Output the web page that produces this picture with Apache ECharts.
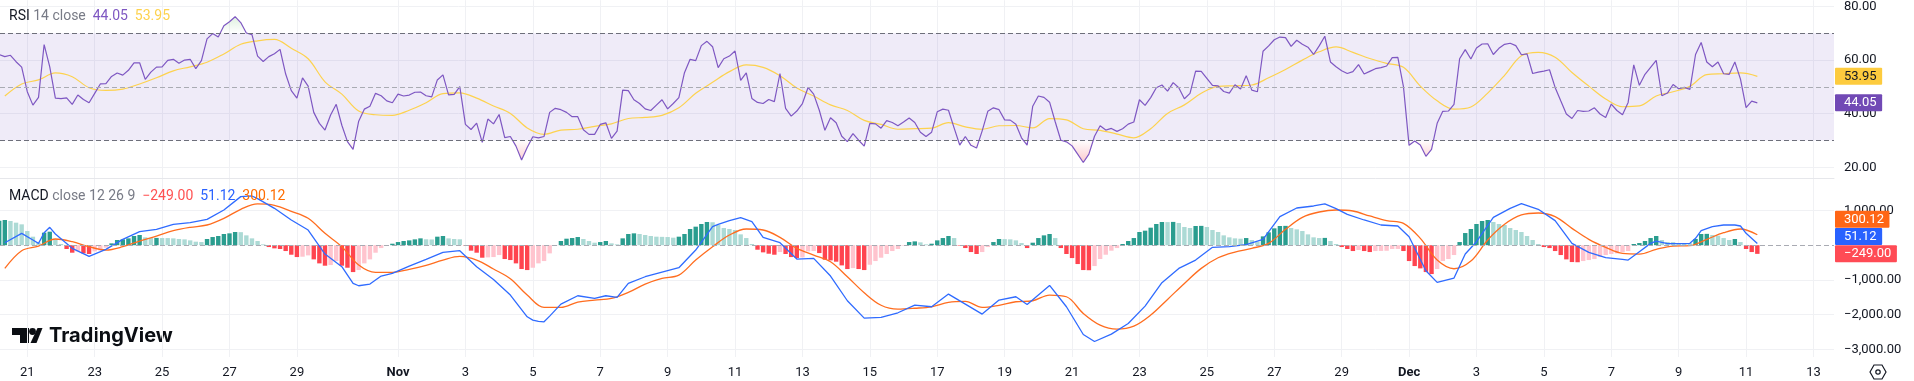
<!DOCTYPE html>
<html>
<head>
<meta charset="utf-8">
<style>html,body{margin:0;padding:0;background:#fff}#c{width:1914px;height:381px}</style>
<script src="https://cdn.jsdelivr.net/npm/echarts@6/dist/echarts.min.js"></script>
</head>
<body>
<div id="c"></div>
<script>
// One value per 4-hour candle (candle 0 .. 313).
const rsi = [62.1,61.3,61.8,59.4,57.4,48.2,43.2,46.1,65.8,57.5,45.8,45.6,45.9,43.5,47,45.3,44.1,47.6,51.1,51.2,53.9,55.2,54.4,56.2,59,59,52.8,55.5,57.4,57.5,59.9,60.3,58.8,60,60.3,56.8,59.8,67.9,69.9,68.6,72.8,74.3,76.2,74,70.1,69.5,61.5,59.5,61.3,62.4,64,54.8,48.6,45.8,
53.4,50.3,40.5,36.4,33.9,39.5,43.5,35.7,29.6,26.7,37.2,41.7,42.8,47.6,46.7,44.8,44.1,47.3,46.6,46.95,48,48.1,46.7,46.3,52.6,54.5,47,47.2,50.1,36,34.1,36.5,29.3,38,36.2,39.7,31.1,31.5,27.9,22.7,27.4,31.4,31,31.5,40.5,42,41.5,40.5,38.9,38.9,34,32.3,32.3,
36,36.6,30.8,33.5,48.8,48.6,45.2,43.8,41.8,41.2,43.2,45.2,41.8,43.8,46,55.3,60.3,59.8,65.4,67,65,57.2,60.5,61.5,63.4,52.4,55.2,45.7,44.2,43.8,45.3,44.5,55,42,39.1,41,43.8,49.8,47.3,41.3,33.8,38.5,36.6,31.6,29.6,32.6,30.1,27.9,36.4,36.2,34.6,37.4,
36.7,35.5,36.9,38.4,36.7,33.1,31.5,33.1,40.7,41.7,41.3,34.7,28.3,31.5,28.2,27.2,33.6,40.9,42.2,41.5,37.7,37.6,36.1,31,28.3,42.8,46.6,46.1,44.3,37,30.1,29.5,28,24.9,21.8,24.9,31.6,35.5,33.9,34.5,33.4,34.4,36.1,36.9,45.2,43.1,46,49.7,50.7,48.4,51.6,49.7,45.6,
47.6,55.9,55.8,53.2,50.6,50.4,48.3,47.7,50.8,49.2,54.2,48.8,48.2,63.3,65.3,67.6,68.6,68.4,65.1,67.4,65.9,64.8,62.1,65.3,68.9,59.3,57.5,56,55,55.7,58.3,54.8,55.8,56.8,57.2,57.8,60.9,61,50.1,28.2,29.8,28.3,24.1,26.7,36.4,40.9,41,43.5,60.5,63.9,60.4,
64.5,66,66.1,62.1,64.4,65.9,66.3,65.4,62,62.3,55,55.5,55.9,56.4,49.8,44.8,39.9,38.2,41.2,40.9,41,42.2,39.9,38.6,43.6,41.2,39.6,44.2,58.2,50.6,54.7,57.3,59.9,46.7,47.7,50.9,49.3,49.8,49.1,62.1,66.6,59.3,57.5,59.3,54.9,54.7,59.3,52.9,42.3,44.7,44.05];

// Read every third candle, starting at candle 1.
const rsiMa = [46.6,51.1,52.6,55.2,53.8,49.7,48.7,49.2,51.1,53.4,56,57.5,59.2,62.3,65.9,67.2,67.7,64.4,
60.5,51.9,47.3,41,39.6,39.4,41.3,44.1,47.5,47.8,45.8,42.9,40.1,34.7,32.3,33.9,34.2,
35.3,36.2,38.2,38.6,39.4,42.2,47.6,51.7,55.7,58.2,57.3,54.2,49.6,46.6,43.3,41.2,37.5,36,
34.2,34.4,34.6,36.7,35.1,34.2,35.5,35.6,34.7,38.2,37.7,34.4,33.8,32.4,31,34.4,40.1,43.3,
47.6,50.2,50.4,50.7,53.4,56.5,60,63.1,64.9,62.9,60.6,58.8,57.3,50.3,44.8,41.7,42.5,
47.7,54.3,61.6,62.9,61.1,55.4,50.3,45.5,42.6,42.9,46.6,48.2,50.2,54.6,54.9,55.2,53.95];

// One value per candle.
const hist = [700,725,696,648,600,408,245,72,360,389,168,34,-110,-216,-178,-235,-254,-178,-149,-72,53,149,168,197,264,293,226,206,210,206,205,197,178,168,139,101,91,178,235,264,322,341,379,375,283,197,120,24,-53,-91,-110,-168,-274,-341,-331,-293,-408,-523,-590,-571,-456,-590,-648,-773,-715,-523,-408,-216,-82,-24,43,91,120,139,168,197,170,165,245,264,197,178,170,-14,-158,-216,-360,-350,-341,-283,-398,-427,-523,-686,-715,-648,-523,-456,-235,-14,120,187,206,235,178,120,72,91,120,53,24,197,322,341,322,
293,264,245,240,235,216,245,322,466,533,610,667,660,581,494,466,437,312,206,34,-130,-206,-245,-274,-197,-254,-341,-370,-350,-178,-168,-226,-418,-437,-475,-581,-686,-658,-686,-715,-562,-456,-360,-254,-168,-110,-14,91,110,82,24,43,139,206,264,206,-14,-82,-197,-254,-197,-53,91,178,175,168,139,62,-82,72,206,283,322,206,-82,-254,-370,-542,-715,-720,-600,-398,-274,-158,-82,34,120,206,379,418,504,610,667,665,670,638,523,494,552,556,523,437,379,283,226,197,187,206,149,101,
254,370,485,552,556,494,456,408,312,226,206,210,120,34,-53,-110,-168,-139,-168,-197,-168,-165,-160,-110,-108,-168,-456,-600,-667,-773,-830,-686,-456,-398,-283,91,350,466,610,696,725,667,610,581,494,437,379,264,149,34,-53,-82,-168,-283,-408,-485,-490,-456,-427,-398,-341,-283,-254,-235,-197,-168,34,62,120,206,264,149,91,88,62,60,58,178,322,326,293,274,206,149,178,91,-110,-197,-249];

// [candle, value] read at the turning points.
const macd = [[1,72],[4,341],[6,149],[7,53],[8,360],[9,514],[10,322],[13,-91],[16,-322],[19,-120],[22,168],[25,389],[28,456],[31,600],[34,648],[37,744],[40,1013],[43,1397],[45,1416],[46,1339],[49,1061],[52,725],[55,437],[58,-254],[61,-619],[63,-1099],[64,-1166],[66,-1118],[68,-888],[70,-811],[73,-600],[76,-408],[79,-206],[82,-158],[85,-619],[88,-984],[91,-1435],[94,-2059],[95,-2155],[96,-2194],[97,-2203],[98,-2040],[100,-1694],[103,-1454],[106,-1531],[108,-1454],[110,-1502],[112,-1099],
[115,-907],[118,-773],[121,-648],[124,-139],[127,533],[128,600],[130,706],[132,792],[134,677],[136,226],[139,72],[142,-398],[145,-379],[148,-888],[151,-1598],[154,-2098],[157,-2078],[160,-1944],[163,-1723],[166,-1771],[169,-1406],[172,-1694],[175,-1982],[178,-1579],[181,-1483],[183,-1704],[187,-1157],[190,-1771],[193,-2568],[195,-2770],[198,-2558],[201,-2251],[204,-1752],[207,-1080],[210,-667],[213,-427],[216,-62],[219,-43],[222,14],
[225,168],[228,821],[231,1070],[234,1128],[236,1186],[238,1051],[240,888],[243,725],[246,581],[249,552],[251,245],[254,-734],[256,-1070],[259,-946],[261,-254],[263,101],[266,802],[269,1061],[271,1195],[274,1032],[277,706],[280,53],[283,-206],[286,-360],[289,-408],[290,-427],[292,-187],[294,53],[295,120],[297,43],[300,43],[301,53],[302,197],[303,418],[305,533],[307,581],[309,581],[310,552],[311,341],[313,51.12]];

// Read every third candle, starting at candle 1.
const signal = [-667,-158,-24,178,101,-43,-139,-43,120,264,418,514,581,773,1032,1186,1147,974,773,341,-43,-571,-782,-782,-696,-581,-427,-322,-427,-686,-965,-1435,-1790,-1790,-1637,-1579,-1531,-1358,
-1118,-955,-859,-427,-43,293,466,437,226,-91,-283,-475,-907,-1368,-1728,-1838,-1814,-1771,-1646,-1618,-1790,-1728,-1627,-1598,-1435,-1483,-1963,-2299,-2414,-2328,-2011,-1560,-1099,-667,-360,-197,
-91,53,456,802,955,1013,984,840,706,629,197,-427,-677,-456,149,600,869,926,821,485,168,-62,-235,-254,-120,-24,-14,168,360,466,300.12];

// Time axis: label and candle of each tick.
const dateLabels = ['21','23','25','27','29','Nov','3','5','7','9','11','13','15','17','19','21','23','25','27','29','Dec','3','5','7','9','11','13'];
const dateCandles = [5,17,29,41,53,71,83,95,107,119,131,143,155,167,179,191,203,215,227,239,251,263,275,287,299,311,323];

const rsiTicks = [20,40,60,80];
const macdTicks = [-3000,-2000,-1000,1000];

const FONT = 'Roboto, "Noto Sans", sans-serif';
const INK = '#131722', GRID = '#F0F1F4', SEP = '#E6E7EB', GREY = '#787B86';

const everyThird = a => a.map((v, k) => [1 + 3 * k, v]);
const indexed = a => a.map((v, i) => [i, v]);

// Parts of the RSI beyond a level, with the crossing points inserted.
function beyond(level, isBeyond) {
  const out = [];
  rsi.forEach((v, i) => {
    if (i > 0) {
      const p = rsi[i - 1];
      if (isBeyond(p) !== isBeyond(v)) out.push([i - 1 + (level - p) / (v - p), level]);
    }
    out.push([i, isBeyond(v) ? v : level]);
  });
  return out;
}

function histColor(i) {
  const v = hist[i], p = i ? hist[i - 1] : 0;
  if (v >= 0) return v > p ? '#2A9D8F' : '#ACDAD5';
  return v < p ? '#FF444F' : '#FFC4CE';
}

const fmt = v => v.toFixed(2).replace(/\B(?=(\d{3})+\.)/g, ',').replace('-', '\u2212');

function priceTag(value, bg, dy, ink) {
  return {
    yAxis: value,
    lineStyle: {color: 'transparent', width: 0},
    label: {
      show: true, position: 'end', distance: 1, offset: [0, dy],
      formatter: () => fmt(value),
      backgroundColor: bg, color: ink || '#fff', fontFamily: FONT, fontSize: 13,
      padding: [2, 5.5, 2, 9], lineHeight: 13, borderRadius: 1
    }
  };
}

function legendStyle(colors) {
  const rich = {};
  Object.keys(colors).forEach(k => {
    rich[k] = {color: colors[k], fontFamily: FONT, fontSize: 14, fontWeight: 'normal'};
  });
  return {fontWeight: 'normal', fontSize: 14, fontFamily: FONT, rich};
}

const xAxisBase = {
  type: 'value', min: 0.142, max: 326.65,
  axisLine: {show: false},
  axisTick: {show: false, customValues: dateCandles},
  splitLine: {show: true, lineStyle: {color: GRID, width: 1}}
};

const chart = echarts.init(document.getElementById('c'), null, {renderer: 'canvas'});
const dashed = (color, width) => ({color, type: [5, 3], width: width || 1});

chart.setOption({
  animation: false,
  backgroundColor: '#fff',
  title: [{
    left: 9, top: 9, padding: 0,
    text: '{a|RSI} {b|14 close}  {c|44.05}  {d|53.95}',
    textStyle: legendStyle({a: INK, b: GREY, c: '#7E57C2', d: '#FDD24E'})
  }, {
    left: 9, top: 189, padding: 0,
    text: '{a|MACD} {b|close 12 26 9}  {c|\u2212249.00}  {d|51.12}  {e|300.12}',
    textStyle: legendStyle({a: INK, b: GREY, c: '#FF5252', d: '#2962FF', e: '#FF6D00'})
  }],
  grid: [
    {left: 0, width: 1834, top: 0, height: 178},
    {left: 0, width: 1834, top: 178, height: 179}
  ],
  xAxis: [
    Object.assign({gridIndex: 0, axisLabel: {show: false}}, xAxisBase,
      {axisLine: {show: true, onZero: false, lineStyle: {color: SEP, width: 1}}}),
    Object.assign({gridIndex: 1}, xAxisBase, {
      axisLabel: {
        show: true, customValues: dateCandles, margin: 9, hideOverlap: false,
        color: INK, fontFamily: FONT, fontSize: 13,
        formatter: v => {
          const t = dateLabels[dateCandles.indexOf(v)];
          return /[A-Z]/.test(t) ? '{b|' + t + '}' : t;
        },
        rich: {b: {fontWeight: 'bold', color: INK, fontFamily: FONT, fontSize: 13}}
      }
    })
  ],
  yAxis: [{
    gridIndex: 0, type: 'value', position: 'right', min: 16.01, max: 82.35,
    axisLine: {show: false},
    axisTick: {show: false, customValues: rsiTicks},
    splitLine: {show: true, lineStyle: {color: GRID}},
    axisLabel: {
      customValues: rsiTicks, margin: 10, color: INK, fontFamily: FONT, fontSize: 13,
      align: 'left', padding: [0, 0, 3, 0], formatter: fmt, showMinLabel: true, showMaxLabel: true
    }
  }, {
    gridIndex: 1, type: 'value', position: 'right', min: -3216, max: 1933,
    axisLine: {show: false},
    axisTick: {show: false, customValues: macdTicks},
    splitLine: {show: true, lineStyle: {color: GRID}},
    axisLabel: {
      customValues: macdTicks, margin: 10, color: INK, fontFamily: FONT, fontSize: 13,
      align: 'left', padding: [0, 0, 3, 0], formatter: fmt, showMinLabel: true, showMaxLabel: true
    }
  }],
  series: [
    {
      name: 'Overbought', type: 'line', xAxisIndex: 0, yAxisIndex: 0, z: 2,
      data: beyond(70, v => v > 70), showSymbol: false, lineStyle: {width: 0}, silent: true,
      areaStyle: {origin: 70, opacity: 1, color: new echarts.graphic.LinearGradient(0, 6, 0, 33, [
        {offset: 0, color: 'rgba(76,175,80,0.3)'}, {offset: 1, color: 'rgba(76,175,80,0)'}], true)}
    },
    {
      name: 'Oversold', type: 'line', xAxisIndex: 0, yAxisIndex: 0, z: 2,
      data: beyond(30, v => v < 30), showSymbol: false, lineStyle: {width: 0}, silent: true,
      areaStyle: {origin: 30, opacity: 1, color: new echarts.graphic.LinearGradient(0, 140, 0, 167, [
        {offset: 0, color: 'rgba(242,54,69,0)'}, {offset: 1, color: 'rgba(242,54,69,0.32)'}], true)}
    },
    {
      name: 'RSI', type: 'line', xAxisIndex: 0, yAxisIndex: 0, z: 4,
      data: indexed(rsi), showSymbol: false, lineStyle: {color: '#7E57C2', width: 1.2},
      markArea: {silent: true, itemStyle: {color: 'rgba(126,87,194,0.12)'},
        data: [[{yAxis: 70}, {yAxis: 30}]]},
      markLine: {silent: true, symbol: 'none', animation: false, label: {show: false},
        data: [
          {yAxis: 70, lineStyle: dashed('#6D6F7A')},
          {yAxis: 30, lineStyle: dashed('#6D6F7A')},
          {yAxis: 50, lineStyle: dashed('#A9ABB3')},
          priceTag(44.05, '#7149B5', 0)
        ]}
    },
    {
      name: 'RSI MA', type: 'line', xAxisIndex: 0, yAxisIndex: 0, z: 3, smooth: 0.35,
      data: everyThird(rsiMa), showSymbol: false, lineStyle: {color: '#FDD24E', width: 1.2},
      markLine: {silent: true, symbol: 'none', animation: false, label: {show: false},
        data: [priceTag(53.95, '#FDCB3E', 0, INK)]}
    },
    {
      name: 'Histogram', type: 'bar', xAxisIndex: 1, yAxisIndex: 1, z: 2, barWidth: 4.4,
      data: hist.map((v, i) => ({value: [i, v], itemStyle: {color: histColor(i)}})),
      markLine: {silent: true, symbol: 'none', animation: false, label: {show: false},
        data: [{yAxis: 0, lineStyle: dashed('#A9ABB3')}]}
    },
    {
      name: 'MACD', type: 'line', xAxisIndex: 1, yAxisIndex: 1, z: 4,
      data: macd, showSymbol: false, lineStyle: {color: '#2F6BFF', width: 1.3},
      markLine: {silent: true, symbol: 'none', animation: false, label: {show: false},
        data: [priceTag(51.12, '#2962FF', -7)]}
    },
    {
      name: 'Signal', type: 'line', xAxisIndex: 1, yAxisIndex: 1, z: 3, smooth: 0.35,
      data: everyThird(signal), showSymbol: false, lineStyle: {color: '#FF6D1F', width: 1.3},
      markLine: {silent: true, symbol: 'none', animation: false, label: {show: false},
        data: [priceTag(300.12, '#FF6616', -15.5), priceTag(-249, '#FF4B55', 0)]}
    }
  ],
  graphic: [
    // TradingView wordmark and glyph
    {type: 'polygon', silent: true, shape: {points: [[12,328],[29,328],[29,343],[20,343],[20,335],[12,335]]}, style: {fill: '#0B0E13'}},
    {type: 'circle', silent: true, shape: {cx: 32.5, cy: 331.5, r: 3.4}, style: {fill: '#0B0E13'}},
    {type: 'polygon', silent: true, shape: {points: [[30.5,343],[36.5,343],[42.5,328],[37.5,328]]}, style: {fill: '#0B0E13'}},
    {type: 'text', silent: true, x: 49, y: 336, style: {
      text: 'TradingView', fill: '#0B0E13', font: '700 20px Inter, Roboto, sans-serif',
      verticalAlign: 'middle'
    }},
    // Settings hexagon
    {type: 'polygon', silent: true, shape: {points: [[1870,372],[1874,365],[1882,365],[1886,372],[1882,379],[1874,379]]},
      style: {fill: 'none', stroke: INK, lineWidth: 1.2}},
    {type: 'circle', silent: true, shape: {cx: 1878, cy: 372, r: 2.2}, style: {fill: 'none', stroke: INK, lineWidth: 1.2}}
  ]
});
</script>
</body>
</html>
